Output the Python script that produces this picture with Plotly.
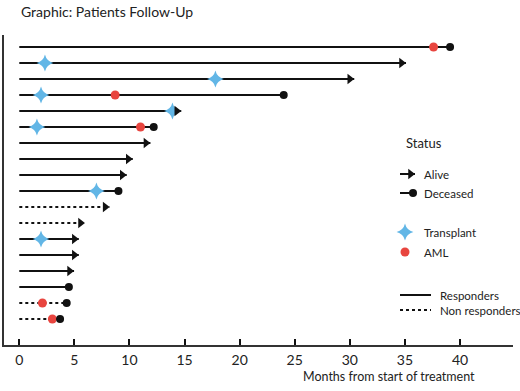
import plotly.graph_objects as go

# ---------------- data ----------------
patients = list(range(1, 19))
end_month = [39.1, 35.1, 30.4, 24.0, 14.7, 12.2, 11.9, 10.3, 9.75, 9.0,
             8.2, 5.96, 5.4, 5.4, 4.97, 4.5, 4.3, 3.7]
deceased = [True, False, False, True, False, True, False, False, False, True,
            False, False, False, False, False, True, True, True]
responder = [True, True, True, True, True, True, True, True, True, True,
             False, False, True, True, True, True, False, False]
transplant_month = [None, 2.33, 17.8, 1.97, 13.9, 1.6, None, None, None, 7.0,
                    None, None, 1.97, None, None, None, None, None]
aml_month = [37.6, None, None, 8.7, None, 11.0, None, None, None, None,
             None, None, None, None, None, None, 2.1, 3.0]
x_ticks = [0, 5, 10, 15, 20, 25, 30, 35, 40]

FONT = "Lato"
BLACK = "#111111"
BLUE = "#62b6e6"
RED = "#e8453f"

fig = go.Figure()

# follow-up lines
for p, e, r in zip(patients, end_month, responder):
    fig.add_trace(go.Scatter(
        x=[0, e], y=[p, p], mode="lines",
        line=dict(color=BLACK, width=2, dash="solid" if r else "3px,3px"),
        hoverinfo="skip", showlegend=False))

# transplant stars
tx = [t for t in transplant_month if t is not None]
ty = [p for p, t in zip(patients, transplant_month) if t is not None]
fig.add_trace(go.Scatter(x=tx, y=ty, mode="markers",
                         marker=dict(symbol="star-diamond", size=12, color=BLUE,
                                     line=dict(width=0)),
                         showlegend=False))

# AML dots
ax_ = [a for a in aml_month if a is not None]
ay_ = [p for p, a in zip(patients, aml_month) if a is not None]
fig.add_trace(go.Scatter(x=ax_, y=ay_, mode="markers",
                         marker=dict(symbol="circle", size=9, color=RED),
                         showlegend=False))

# deceased endpoints
dx = [e for e, d in zip(end_month, deceased) if d]
dy = [p for p, d in zip(patients, deceased) if d]
fig.add_trace(go.Scatter(x=dx, y=dy, mode="markers",
                         marker=dict(symbol="circle", size=8, color=BLACK),
                         showlegend=False))

# alive arrowheads (tip at the end of follow-up)
alx = [e for e, d in zip(end_month, deceased) if not d]
aly = [p for p, d in zip(patients, deceased) if not d]
fig.add_trace(go.Scatter(x=alx, y=aly, mode="markers",
                         marker=dict(symbol="triangle-up", size=9, color=BLACK,
                                     angle=90, standoff=4.5),
                         showlegend=False))

# ---------------- custom legend on a pixel-like overlay axis ----------------
def L(xs, ys, **kw):
    fig.add_trace(go.Scatter(x=xs, y=ys, xaxis="x2", yaxis="y2",
                             showlegend=False, hoverinfo="skip", **kw))

L([400, 415], [174, 174], mode="lines", line=dict(color=BLACK, width=2))
L([415], [174], mode="markers",
  marker=dict(symbol="triangle-up", size=9, color=BLACK, angle=90, standoff=4.5))
L([400, 413], [193, 193], mode="lines", line=dict(color=BLACK, width=2))
L([413], [193], mode="markers", marker=dict(symbol="circle", size=8, color=BLACK))
L([405], [232], mode="markers",
  marker=dict(symbol="star-diamond", size=12, color=BLUE, line=dict(width=0)))
L([405], [252], mode="markers", marker=dict(symbol="circle", size=9, color=RED))
L([400, 431], [295, 295], mode="lines", line=dict(color=BLACK, width=2))
L([400, 431], [310, 310], mode="lines", line=dict(color=BLACK, width=2, dash="3px,3px"))

# plot area in pixels: x 4..513, y 35..345
def px(x):
    return (x - 4) / 509

def py(y):
    return 1 - (y - 35) / 310

legend_texts = [("Status", 424, 143, 13, "center"),
                ("Alive", 422, 174, 11.5, "left"),
                ("Deceased", 422, 193, 11.5, "left"),
                ("Transplant", 422, 232, 11.5, "left"),
                ("AML", 422, 252, 11.5, "left"),
                ("Responders", 438, 295, 11.5, "left"),
                ("Non responders", 438, 310, 11.5, "left")]
annotations = []
for t, x, y, s, anc in legend_texts:
    annotations.append(dict(text=t, x=px(x), y=py(y), xref="paper", yref="paper",
                            xanchor=anc, yanchor="middle", showarrow=False,
                            font=dict(family=FONT, size=s, color="#222")))
annotations.append(dict(text="Months from start of treatment", x=px(389), y=py(376),
                        xref="paper", yref="paper", xanchor="center", yanchor="middle",
                        showarrow=False, font=dict(family=FONT, size=12.5, color="#222")))
annotations.append(dict(text="Graphic: Patients Follow-Up", x=px(19), y=py(11),
                        xref="paper", yref="paper", xanchor="left", yanchor="middle",
                        showarrow=False, font=dict(family=FONT, size=14, color="#222")))

fig.update_layout(
    width=520, height=391,
    margin=dict(l=4, r=7, t=35, b=46),
    paper_bgcolor="white", plot_bgcolor="white",
    xaxis=dict(range=[-1.389, 44.81], tickvals=x_ticks, ticktext=[str(v) for v in x_ticks],
               ticks="inside", ticklen=6, tickwidth=2, tickcolor=BLACK,
               showline=True, linecolor="#333", linewidth=1.5,
               showgrid=False, zeroline=False, ticklabelstandoff=1,
               tickfont=dict(family=FONT, size=14, color="#222")),
    yaxis=dict(range=[19.625, 0.25], showline=True, linecolor="#333", linewidth=1.5,
               showticklabels=False, ticks="", showgrid=False, zeroline=False),
    xaxis2=dict(range=[4, 513], overlaying="x", visible=False, fixedrange=True),
    yaxis2=dict(range=[345, 35], overlaying="y", visible=False, fixedrange=True),
    annotations=annotations,
    showlegend=False,
)

fig.write_html("out.html", config={"displayModeBar": False})
with open("out.html", encoding="utf-8") as f:
    html = f.read()
html = html.replace("<head>", "<head><style>html,body{margin:0;padding:0;overflow:hidden}</style>", 1)
with open("out.html", "w", encoding="utf-8") as f:
    f.write(html)
